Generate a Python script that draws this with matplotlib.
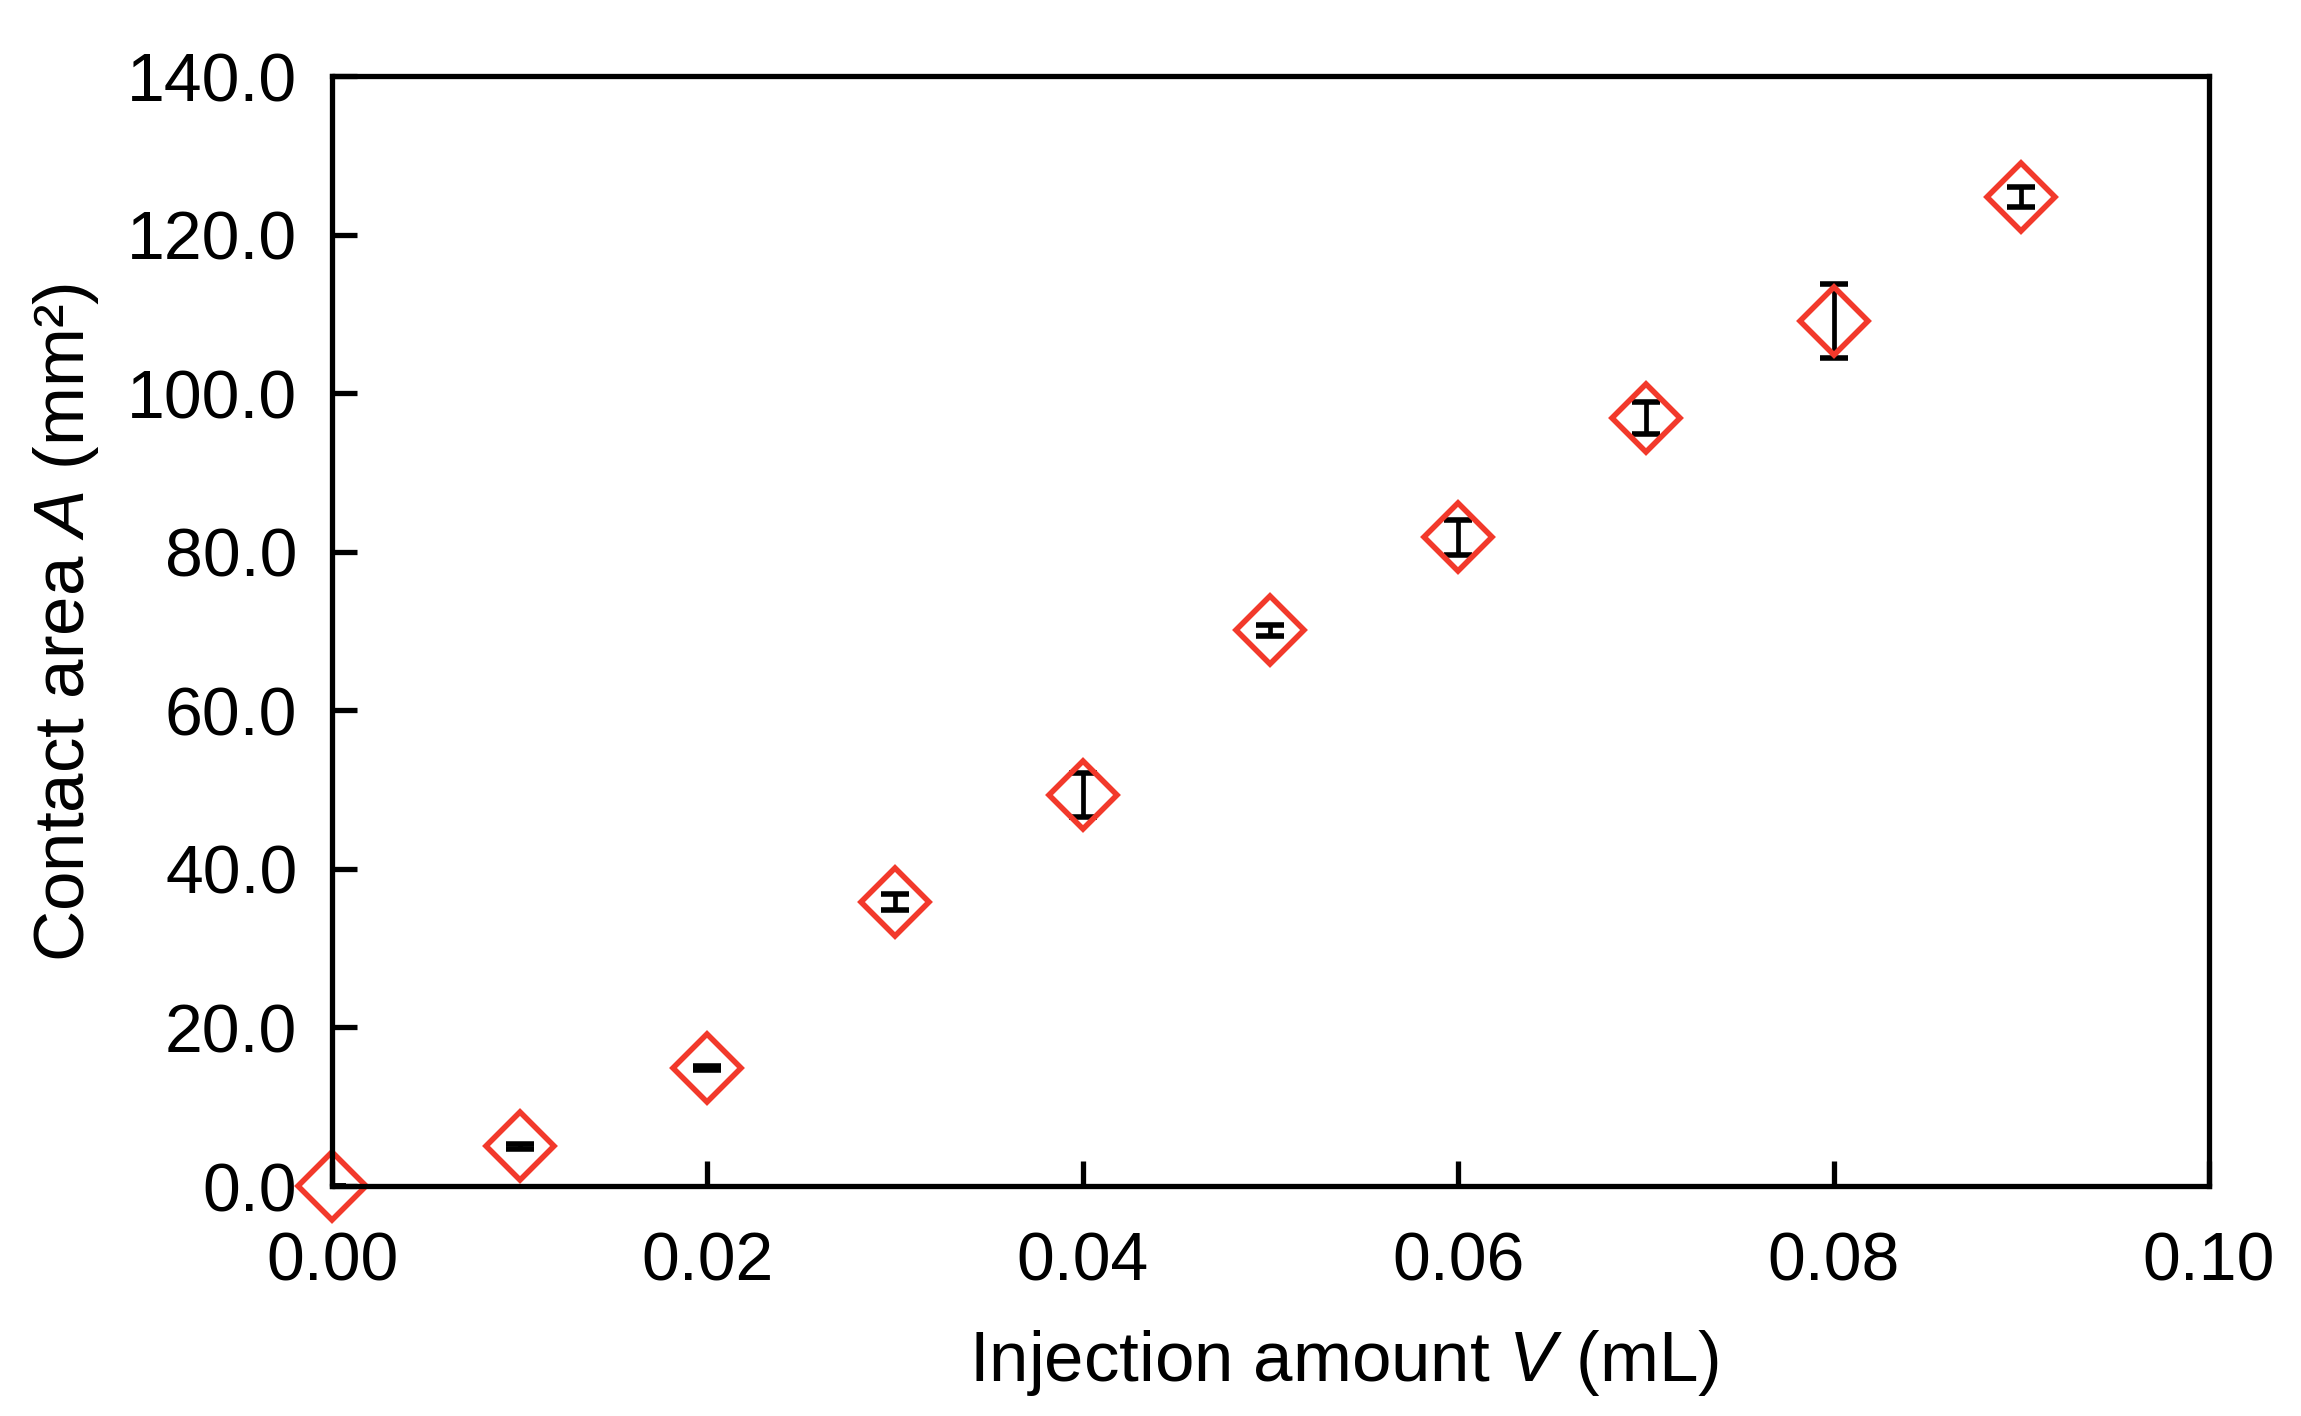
import matplotlib
matplotlib.use("Agg")
from matplotlib import pyplot as plt

# injection amount V (mL) and contact area A (mm^2)
volume = [0.00, 0.01, 0.02, 0.03, 0.04, 0.05, 0.06, 0.07, 0.08, 0.09]
area = [0.0, 5.0, 14.9, 35.8, 49.3, 70.1, 81.8, 96.9, 109.1, 124.7]
area_err = [0.0, 0.3, 0.3, 1.0, 2.8, 0.7, 2.2, 2.05, 4.7, 1.26]

x_ticks = [0.00, 0.02, 0.04, 0.06, 0.08, 0.10]
y_ticks = [0, 20, 40, 60, 80, 100, 120, 140]

plt.rcParams['font.family'] = ['Liberation Sans', 'DejaVu Sans']
plt.rcParams['mathtext.fontset'] = 'custom'
plt.rcParams['mathtext.rm'] = 'Liberation Sans'
plt.rcParams['mathtext.it'] = 'Liberation Sans:italic'

fig = plt.figure(figsize=(23.01, 14.16), dpi=100)
ax = fig.add_axes([0.1443, 0.1624, 0.9600 - 0.1443, 0.9463 - 0.1624])

ax.errorbar(volume, area, yerr=area_err, fmt='none', ecolor='black',
            elinewidth=3.4, capsize=10, capthick=4.0, zorder=3)
ax.plot(volume, area, linestyle='none', marker='D', markersize=35,
        markerfacecolor='none', markeredgecolor='#F2392B', markeredgewidth=4.0,
        zorder=4, clip_on=False)

ax.set_xlim(0, 0.10)
ax.set_ylim(0, 140)
ax.set_xticks(x_ticks)
ax.set_yticks(y_ticks)
ax.set_xticklabels(['%.2f' % t for t in x_ticks])
ax.set_yticklabels(['%.1f' % t for t in y_ticks])

for s in ax.spines.values():
    s.set_linewidth(3.8)
    s.set_zorder(5)

ax.tick_params(axis='both', direction='in', length=18, width=3.8,
               labelsize=49, top=False, right=False)
ax.tick_params(axis='x', pad=32)
ax.tick_params(axis='y', pad=25)

ax.set_xlabel('Injection amount $\\mathit{V}$ (mL)', fontsize=51)
ax.set_ylabel('Contact area $\\mathit{A}$ (mm²)', fontsize=51)
ax.xaxis.set_label_coords(0.539, -0.128)
ax.yaxis.set_label_coords(-0.123, 0.508)

fig.savefig('out.png', dpi=100, facecolor='white')
